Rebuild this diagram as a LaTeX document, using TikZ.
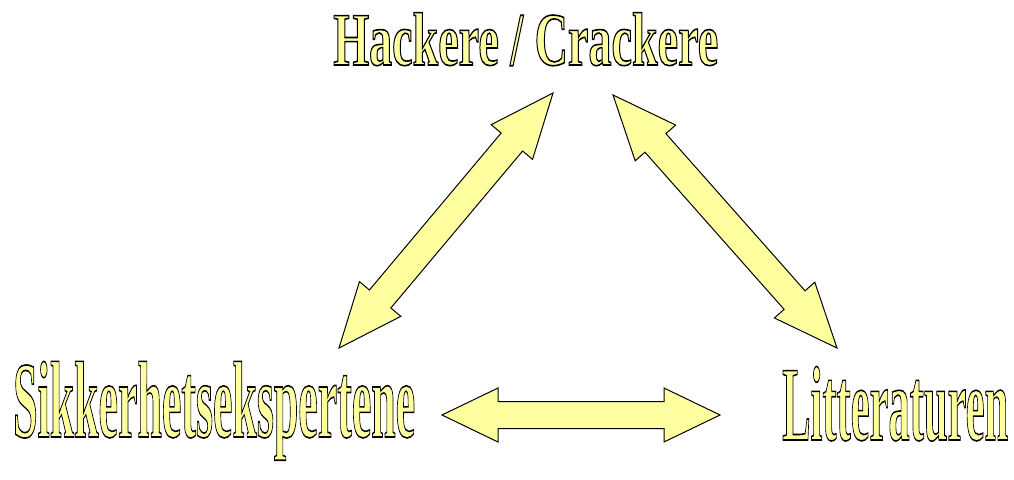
\documentclass[tikz,border=0pt]{standalone}
\usepackage{fontspec}
\setmainfont{Liberation Serif}
\usetikzlibrary{calc}
\definecolor{paleyellow}{RGB}{255,255,160}

% glyphs filled with the current colour and stroked in black
\newcommand\outlinetext[1]{\special{pdf:literal direct 0 0 0 RG 2 Tr 1.6 w}#1\special{pdf:literal direct 0 Tr}}
% condensed outlined word: width, font size, text
\newcommand\wordart[3]{\resizebox{#1}{\height}{\fontsize{#2}{#2}\selectfont\bfseries\outlinetext{#3}}}

% double-headed block arrow between two tips:
% tips #1,#2; head length #3; head half-width #4; shaft half-width #5
\newcommand\blockarrow[5]{%
  \filldraw[arrowbody] (#1)
    -- ($(#1)!#3!(#2)!#4!90:(#2)$)
    -- ($(#1)!#3!(#2)!#5!90:(#2)$)
    -- ($(#2)!#3!(#1)!#5!-90:(#1)$)
    -- ($(#2)!#3!(#1)!#4!-90:(#1)$)
    -- (#2)
    -- ($(#2)!#3!(#1)!#4!90:(#1)$)
    -- ($(#2)!#3!(#1)!#5!90:(#1)$)
    -- ($(#1)!#3!(#2)!#5!-90:(#2)$)
    -- ($(#1)!#3!(#2)!#4!-90:(#2)$)
    -- cycle;}

\tikzset{
  arrowbody/.style={fill=paleyellow, draw=black, line width=1pt, line join=miter},
  word/.style={inner sep=0pt, anchor=base west, text=paleyellow},
}

\begin{document}
\begin{tikzpicture}[x=1pt, y=-1pt]
  \fill[white] (0,0) rectangle (1014,479);
  \useasboundingbox (0,0) rectangle (1014,479);

  % the three parties
  \node[word] (hack) at (333,65)  {\wordart{385pt}{75.5pt}{Hackere / Crackere}};
  \node[word] (sikk) at (13,437)  {\wordart{402pt}{109pt}{Sikkerhetsekspertene}};
  \node[word] (litt) at (782,440) {\wordart{226pt}{106pt}{Litteraturen}};

  % arrow tips
  \coordinate (hackL) at (553,93);
  \coordinate (sikkT) at (339,348);
  \coordinate (hackR) at (613,95);
  \coordinate (littT) at (837,348);
  \coordinate (sikkR) at (442,415);
  \coordinate (littL) at (720,415);

  \blockarrow{hackL}{sikkT}{64pt}{27pt}{14pt}
  \blockarrow{hackR}{littT}{64pt}{27pt}{14pt}
  \blockarrow{sikkR}{littL}{56pt}{27pt}{13.5pt}
\end{tikzpicture}
\end{document}
